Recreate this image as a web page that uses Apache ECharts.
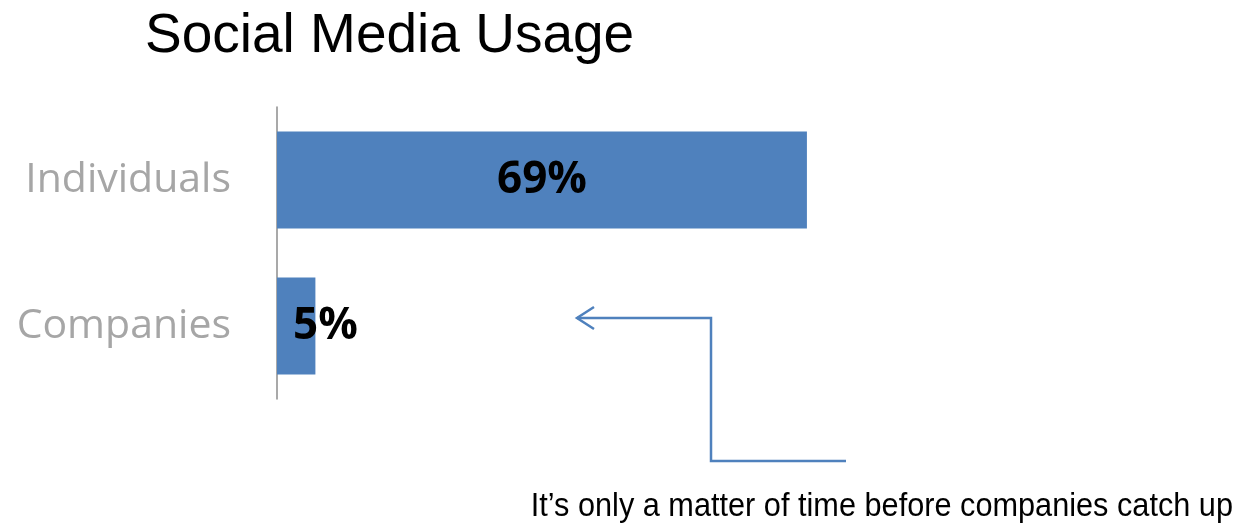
<!DOCTYPE html>
<html><head><meta charset="utf-8">
<script src="https://cdn.jsdelivr.net/npm/echarts@6/dist/echarts.min.js"></script>
<style>html,body{margin:0;padding:0;background:#fff}#c{width:1247px;height:525px}</style>
</head><body><div id="c"></div>
<script>
const categories = ["Individuals", "Companies"];
const usage = [69, 5];
const titleText = "Social Media Usage";
const noteText = "It\u2019s only a matter of time before companies catch up";

const chart = echarts.init(document.getElementById('c'));
const blue = '#4f81bd';
chart.setOption({
  animation: false,
  title: {
    text: titleText, left: 140, top: 4,
    textStyle: {fontFamily: 'Liberation Sans', fontWeight: 'normal', fontSize: 55, color: '#000'}
  },
  grid: {left: 277, right: 202, top: 107, bottom: 126, containLabel: false},
  xAxis: {type: 'value', min: 0, max: 100, show: false},
  yAxis: {
    type: 'category', data: categories, inverse: true,
    axisLine: {show: true, lineStyle: {color: '#8c8c8c', width: 1.5}},
    axisTick: {show: false},
    axisLabel: {color: '#a6a6a6', fontSize: 41, fontFamily: 'Open Sans', margin: 46, padding: [4, 0, 0, 0]}
  },
  series: [{
    type: 'bar', barWidth: 97,
    itemStyle: {color: blue},
    data: usage.map((v, i) => ({
      value: v,
      label: i === 0
        ? {show: true, position: 'inside'}
        : {show: true, position: 'insideLeft', distance: 16}
    })),
    label: {
      formatter: '{c}%', color: '#000', fontWeight: 'bold', fontSize: 44, fontFamily: 'Open Sans',
      padding: [4, 0, 0, 0]
    }
  }],
  graphic: [
    {type: 'polyline', shape: {points: [[846, 461], [711, 461], [711, 318], [577, 318]]},
     style: {stroke: blue, lineWidth: 2.5, fill: null}},
    {type: 'polyline', shape: {points: [[594, 307], [577, 318], [594, 329]]},
     style: {stroke: blue, lineWidth: 2.5, fill: null}},
    {type: 'text', x: 1233, y: 507, scaleX: 0.93, originX: 0, originY: 0,
     style: {text: noteText, fontFamily: 'Liberation Sans', fontSize: 33, fill: '#000',
             align: 'right', verticalAlign: 'middle'}}
  ]
});
</script></body></html>
